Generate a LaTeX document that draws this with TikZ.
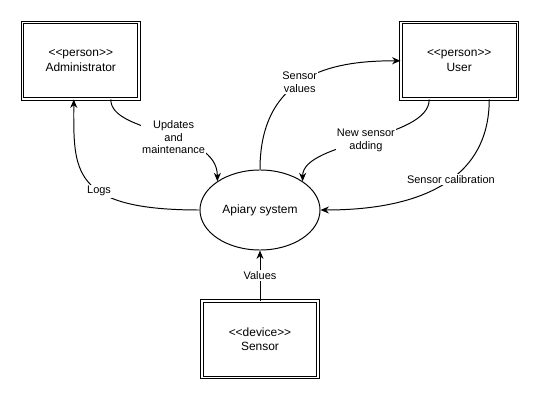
\documentclass[tikz,border=0pt]{standalone}
\usepackage{fontspec}
\setmainfont{Liberation Sans}[Ligatures=TeXOff]
\usetikzlibrary{shapes,arrows.meta,positioning}
\tikzset{>={Stealth[length=6pt,width=5pt]}}

\begin{document}
\begin{tikzpicture}[
x=0.025cm, y=-0.025cm, line width=0.7pt,
actornode/.style={rectangle, align=center, draw=black, double, double distance=1.1pt, minimum width=2.91cm, minimum height=1.91cm, font=\fontsize{8.5}{10.6}\selectfont},
systemnode/.style={ellipse, align=center, draw=black, minimum width=3cm, minimum height=2cm, inner sep=0pt, font=\fontsize{8.5}{10.6}\selectfont},
edgelabel/.style={fill=white, align=center, inner sep=1pt, font=\fontsize{7.8}{8.9}\selectfont},
]
\useasboundingbox (0,0) rectangle (541,401);
%Nodes
\node[systemnode](Apiary) at (260,210){Apiary system};
\coordinate (Apiary NW) at (Apiary.north -| Apiary.west);
\coordinate (Apiary NE) at (Apiary.north -| Apiary.east);
\node[actornode](Administrator)[above left=1.75cm and 1.5cm of Apiary NW]{<<person>>\\ Administrator};
\node[actornode](User)[above right=1.75cm and 2cm of Apiary NE]{<<person>>\\ User};
\node[actornode](Sensor)[below=1.25cm of Apiary]{<<device>>\\ Sensor};

%Lines
\draw[->] ([xshift=0.75cm]Administrator.south) .. controls +(0,35) and +(0,-52) .. (Apiary.146) node[edgelabel, pos=0.56]{Updates\\ and\\ maintenance};
\draw[->] (Apiary.west) .. controls +(-130,0) and +(0,70) .. ([xshift=-0.175cm]Administrator.south) node[edgelabel, pos=0.4]{Logs};
\draw[->] (Apiary.north) .. controls +(0,-100) and +(-60,0) .. (User.west) node[edgelabel, pos=0.45]{Sensor\\ values};
\draw[->] ([xshift=-0.75cm]User.south) .. controls +(0,40) and +(0,-40) .. (Apiary.34) node[edgelabel, pos=0.5]{New sensor\\ adding};
\draw[->] ([xshift=0.75cm]User.south) .. controls +(0,80) and +(100,0) .. (Apiary.east) node[edgelabel, pos=0.45]{Sensor calibration};
\draw[->] (Sensor) -- node[edgelabel]{Values} (Apiary);

\end{tikzpicture}
\end{document}
